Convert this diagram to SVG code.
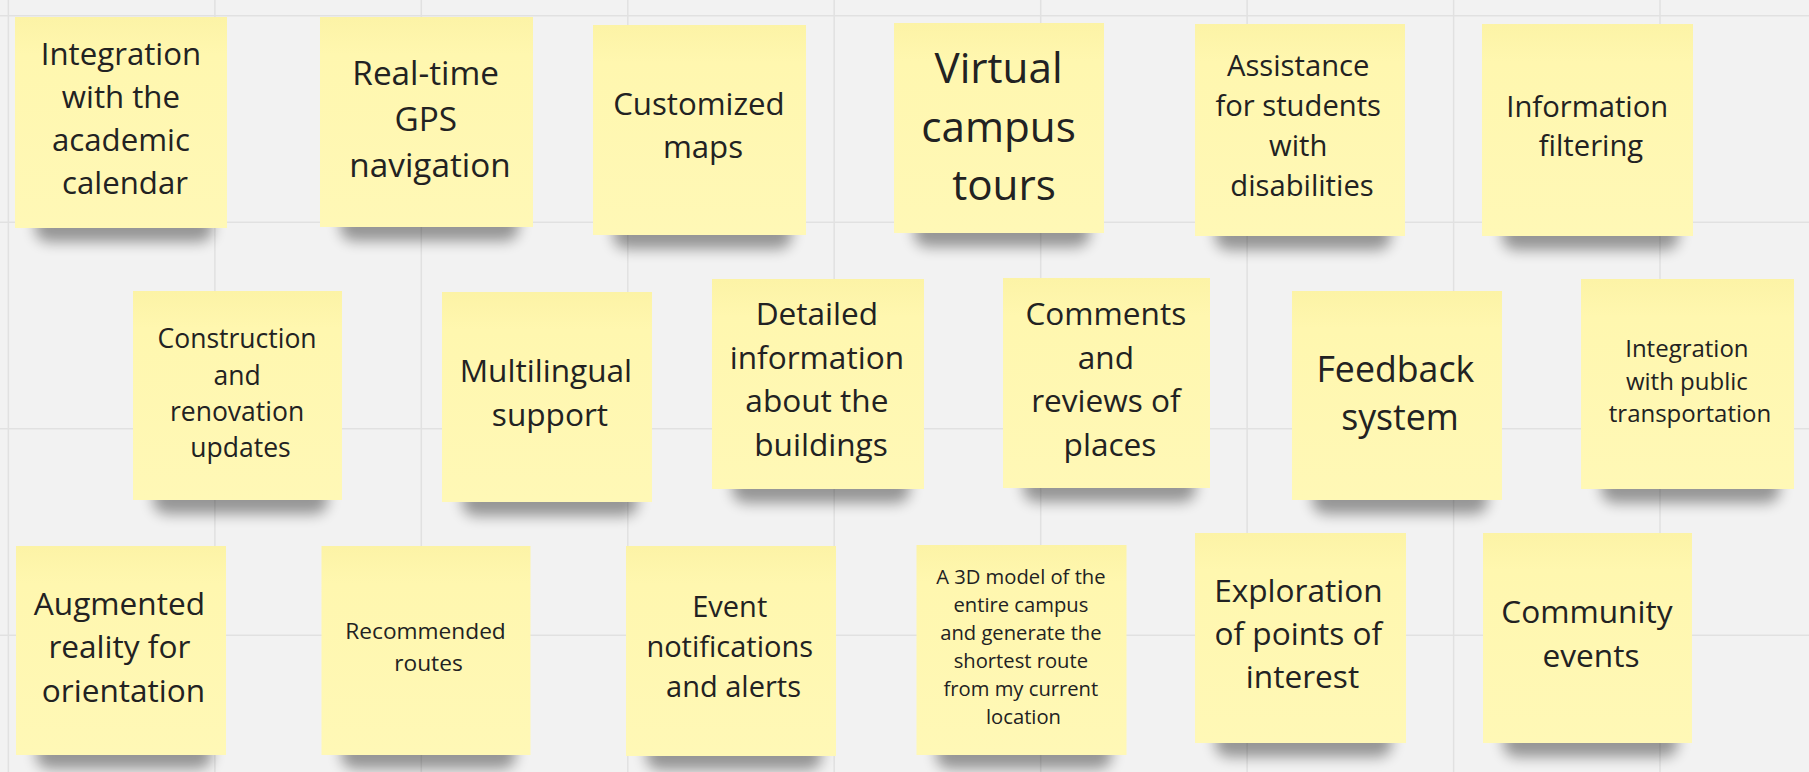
<svg xmlns="http://www.w3.org/2000/svg" width="1809" height="772" viewBox="0 0 1809 772">
  <defs>
    <style>
      .grid line { stroke: #e1e1e1; stroke-width: 1.5; }
      .paper { fill: url(#paperFill); }
      .drop { fill: #000; opacity: 0.38; filter: url(#soft); }
      .label { font-family: "Open Sans", "Noto Sans", "Liberation Sans", sans-serif; fill: #222222; text-anchor: middle; }
    </style>
    <linearGradient id="paperFill" x1="0" y1="0" x2="0" y2="1">
      <stop offset="0" stop-color="#fcf3a6"/>
      <stop offset="0.18" stop-color="#fff7af"/>
      <stop offset="1" stop-color="#fff8b6"/>
    </linearGradient>
    <filter id="soft" x="-20%" y="-80%" width="140%" height="260%">
      <feGaussianBlur stdDeviation="7"/>
    </filter>
  </defs>

  <!-- board background and grid -->
  <rect x="0" y="0" width="1809" height="772" fill="#f2f2f2"/>
  <g class="grid">
    <line x1="8.4" y1="0" x2="8.4" y2="772"/>
    <line x1="214.9" y1="0" x2="214.9" y2="772"/>
    <line x1="421.3" y1="0" x2="421.3" y2="772"/>
    <line x1="627.8" y1="0" x2="627.8" y2="772"/>
    <line x1="834.2" y1="0" x2="834.2" y2="772"/>
    <line x1="1040.7" y1="0" x2="1040.7" y2="772"/>
    <line x1="1247.1" y1="0" x2="1247.1" y2="772"/>
    <line x1="1453.6" y1="0" x2="1453.6" y2="772"/>
    <line x1="1660" y1="0" x2="1660" y2="772"/>
    <line x1="0" y1="15.7" x2="1809" y2="15.7"/>
    <line x1="0" y1="222.2" x2="1809" y2="222.2"/>
    <line x1="0" y1="428.7" x2="1809" y2="428.7"/>
    <line x1="0" y1="635.2" x2="1809" y2="635.2"/>
  </g>

  <!-- no connectors on this board -->
  <g id="connectors"></g>

  <!-- row 1 -->
  <g id="note-academic-calendar">
    <rect class="drop" x="35" y="212" width="178" height="30" rx="14"/>
    <rect class="paper" x="15" y="17" width="212" height="211"/>
    <text class="label" font-size="31.2">
      <tspan x="125" y="65">Integration</tspan>
      <tspan x="125" y="108">with the</tspan>
      <tspan x="125" y="151">academic</tspan>
      <tspan x="125" y="194">calendar</tspan>
    </text>
  </g>

  <g id="note-gps">
    <rect class="drop" x="340" y="211" width="179" height="30" rx="14"/>
    <rect class="paper" x="320" y="17" width="213" height="210"/>
    <text class="label" font-size="33.3">
      <tspan x="430" y="85">Real-time</tspan>
      <tspan x="430" y="131">GPS</tspan>
      <tspan x="430" y="177">navigation</tspan>
    </text>
  </g>

  <g id="note-custom-maps">
    <rect class="drop" x="613" y="219" width="179" height="30" rx="14"/>
    <rect class="paper" x="593" y="25" width="213" height="210"/>
    <text class="label" font-size="31.2">
      <tspan x="703" y="115">Customized</tspan>
      <tspan x="703" y="158">maps</tspan>
    </text>
  </g>

  <g id="note-virtual-tours">
    <rect class="drop" x="914" y="217" width="176" height="30" rx="14"/>
    <rect class="paper" x="894" y="23" width="210" height="210"/>
    <text class="label" font-size="42.2">
      <tspan x="1004" y="83">Virtual</tspan>
      <tspan x="1004" y="141.5">campus</tspan>
      <tspan x="1004" y="200">tours</tspan>
    </text>
  </g>

  <g id="note-accessibility">
    <rect class="drop" x="1215" y="220" width="176" height="30" rx="14"/>
    <rect class="paper" x="1195" y="24" width="210" height="212"/>
    <text class="label" font-size="29.2">
      <tspan x="1302" y="76">Assistance</tspan>
      <tspan x="1302" y="116">for students</tspan>
      <tspan x="1302" y="156">with</tspan>
      <tspan x="1302" y="196">disabilities</tspan>
    </text>
  </g>

  <g id="note-filtering">
    <rect class="drop" x="1502" y="220" width="177" height="30" rx="14"/>
    <rect class="paper" x="1482" y="24" width="211" height="212"/>
    <text class="label" font-size="29.2">
      <tspan x="1591" y="116.7">Information</tspan>
      <tspan x="1591" y="156">filtering</tspan>
    </text>
  </g>

  <!-- row 2 -->
  <g id="note-construction">
    <rect class="drop" x="153" y="484" width="175" height="30" rx="14"/>
    <rect class="paper" x="133" y="291" width="209" height="209"/>
    <text class="label" font-size="26.5">
      <tspan x="240.5" y="348.3">Construction</tspan>
      <tspan x="240.5" y="384.5">and</tspan>
      <tspan x="240.5" y="420.7">renovation</tspan>
      <tspan x="240.5" y="456.9">updates</tspan>
    </text>
  </g>

  <g id="note-multilingual">
    <rect class="drop" x="462" y="486" width="176" height="30" rx="14"/>
    <rect class="paper" x="442" y="292" width="210" height="210"/>
    <text class="label" font-size="31.6">
      <tspan x="550" y="382.3">Multilingual</tspan>
      <tspan x="550" y="425.7">support</tspan>
    </text>
  </g>

  <g id="note-building-info">
    <rect class="drop" x="732" y="473" width="178" height="30" rx="14"/>
    <rect class="paper" x="712" y="279" width="212" height="210"/>
    <text class="label" font-size="31.6">
      <tspan x="821" y="325">Detailed</tspan>
      <tspan x="821" y="368.5">information</tspan>
      <tspan x="821" y="412">about the</tspan>
      <tspan x="821" y="455.5">buildings</tspan>
    </text>
  </g>

  <g id="note-reviews">
    <rect class="drop" x="1023" y="472" width="173" height="30" rx="14"/>
    <rect class="paper" x="1003" y="278" width="207" height="210"/>
    <text class="label" font-size="31.6">
      <tspan x="1110" y="325">Comments</tspan>
      <tspan x="1110" y="368.5">and</tspan>
      <tspan x="1110" y="412">reviews of</tspan>
      <tspan x="1110" y="455.5">places</tspan>
    </text>
  </g>

  <g id="note-feedback">
    <rect class="drop" x="1312" y="484" width="176" height="30" rx="14"/>
    <rect class="paper" x="1292" y="291" width="210" height="209"/>
    <text class="label" font-size="35.7">
      <tspan x="1400" y="381.7">Feedback</tspan>
      <tspan x="1400" y="430">system</tspan>
    </text>
  </g>

  <g id="note-public-transport">
    <rect class="drop" x="1601" y="473" width="179" height="30" rx="14"/>
    <rect class="paper" x="1581" y="279" width="213" height="210"/>
    <text class="label" font-size="24">
      <tspan x="1690" y="356.7">Integration</tspan>
      <tspan x="1690" y="389.5">with public</tspan>
      <tspan x="1690" y="422.3">transportation</tspan>
    </text>
  </g>

  <!-- row 3 -->
  <g id="note-augmented-reality">
    <rect class="drop" x="36" y="739" width="176" height="30" rx="14"/>
    <rect class="paper" x="16" y="546" width="210" height="209"/>
    <text class="label" font-size="31.6">
      <tspan x="123.5" y="615">Augmented</tspan>
      <tspan x="123.5" y="658.3">reality for</tspan>
      <tspan x="123.5" y="701.7">orientation</tspan>
    </text>
  </g>

  <g id="note-routes">
    <rect class="drop" x="341" y="739" width="175" height="30" rx="14"/>
    <rect class="paper" x="321.5" y="546" width="209" height="209"/>
    <text class="label" font-size="22.7">
      <tspan x="428.5" y="639.3">Recommended</tspan>
      <tspan x="428.5" y="670.5">routes</tspan>
    </text>
  </g>

  <g id="note-event-alerts">
    <rect class="drop" x="646" y="740" width="176" height="30" rx="14"/>
    <rect class="paper" x="626" y="546" width="210" height="210"/>
    <text class="label" font-size="29">
      <tspan x="733.5" y="617.3">Event</tspan>
      <tspan x="733.5" y="657.2">notifications</tspan>
      <tspan x="733.5" y="697">and alerts</tspan>
    </text>
  </g>

  <g id="note-3d-model">
    <rect class="drop" x="936" y="739" width="176" height="30" rx="14"/>
    <rect class="paper" x="916.5" y="545" width="210" height="210"/>
    <text class="label" font-size="20.2">
      <tspan x="1023.5" y="584">A 3D model of the</tspan>
      <tspan x="1023.5" y="611.9">entire campus</tspan>
      <tspan x="1023.5" y="639.8">and generate the</tspan>
      <tspan x="1023.5" y="667.7">shortest route</tspan>
      <tspan x="1023.5" y="695.6">from my current</tspan>
      <tspan x="1023.5" y="723.5">location</tspan>
    </text>
  </g>

  <g id="note-points-of-interest">
    <rect class="drop" x="1215" y="727" width="177" height="30" rx="14"/>
    <rect class="paper" x="1195" y="533" width="211" height="210"/>
    <text class="label" font-size="31.6">
      <tspan x="1302.5" y="601.7">Exploration</tspan>
      <tspan x="1302.5" y="645">of points of</tspan>
      <tspan x="1302.5" y="688.3">interest</tspan>
    </text>
  </g>

  <g id="note-community-events">
    <rect class="drop" x="1503" y="727" width="175" height="30" rx="14"/>
    <rect class="paper" x="1483" y="533" width="209" height="210"/>
    <text class="label" font-size="31.6">
      <tspan x="1591" y="623.3">Community</tspan>
      <tspan x="1591" y="666.7">events</tspan>
    </text>
  </g>
</svg>
